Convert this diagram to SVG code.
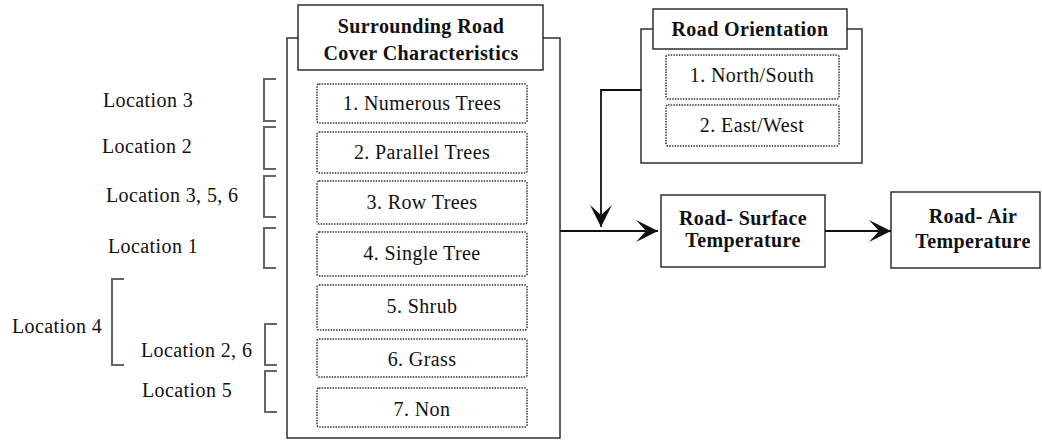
<svg xmlns="http://www.w3.org/2000/svg" width="1042" height="440" viewBox="0 0 1042 440">
<defs>
<style>
.box{fill:#fff;stroke:#222;stroke-width:1.4}
.dot{fill:#fff;stroke:#333;stroke-width:1.5;stroke-dasharray:1.5 1.2}
.br{fill:none;stroke:#666;stroke-width:2}
.conn{fill:none;stroke:#111;stroke-width:1.8}
.t{font-family:"Liberation Serif","Times New Roman",serif;font-size:20px;letter-spacing:0.4px;fill:#111}
.b{font-family:"Liberation Serif","Times New Roman",serif;font-size:20px;font-weight:bold;letter-spacing:0.4px;fill:#111}
.m{text-anchor:middle}
</style>
<marker id="arr" viewBox="-24 -12 26 24" refX="0" refY="0" markerWidth="26" markerHeight="24" markerUnits="userSpaceOnUse" orient="auto">
<path d="M0,0 L-22,-11 L-12,0 L-22,11 Z" fill="#111"/>
</marker>
</defs>
<rect width="1042" height="440" fill="#fff"/>

<g id="cover">
<rect class="box" x="287" y="38" width="273" height="400"/>
<rect class="box" x="298" y="5" width="245" height="65"/>
<text class="b m" x="421" y="33">Surrounding Road</text>
<text class="b m" x="421" y="60">Cover Characteristics</text>
</g>
<g id="item1"><rect class="dot" x="317" y="84" width="210" height="39" rx="2"/><text class="t m" x="422" y="110">1. Numerous Trees</text></g>
<g id="item2"><rect class="dot" x="317" y="132" width="210" height="41" rx="2"/><text class="t m" x="422" y="159">2. Parallel Trees</text></g>
<g id="item3"><rect class="dot" x="317" y="181" width="210" height="43" rx="2"/><text class="t m" x="422" y="209">3. Row Trees</text></g>
<g id="item4"><rect class="dot" x="317" y="232" width="210" height="44" rx="2"/><text class="t m" x="422" y="260">4. Single Tree</text></g>
<g id="item5"><rect class="dot" x="317" y="285" width="210" height="45" rx="2"/><text class="t m" x="422" y="313">5. Shrub</text></g>
<g id="item6"><rect class="dot" x="317" y="339" width="210" height="38" rx="2"/><text class="t m" x="422" y="366">6. Grass</text></g>
<g id="item7"><rect class="dot" x="317" y="388" width="210" height="39" rx="2"/><text class="t m" x="422" y="416">7. Non</text></g>

<g id="orientation">
<rect class="box" x="641" y="29" width="221" height="134"/>
<rect class="box" x="653" y="9" width="194" height="40"/>
<text class="b m" x="750" y="36">Road Orientation</text>
</g>
<g id="or1"><rect class="dot" x="666" y="55" width="173" height="44" rx="2"/><text class="t m" x="752" y="82">1. North/South</text></g>
<g id="or2"><rect class="dot" x="666" y="105" width="173" height="41" rx="2"/><text class="t m" x="752" y="132">2. East/West</text></g>

<g id="surface">
<rect class="box" x="661" y="195" width="164" height="72"/>
<text class="b m" x="743" y="225">Road- Surface</text>
<text class="b m" x="743" y="247">Temperature</text>
</g>
<g id="air">
<rect class="box" x="891" y="192" width="149" height="76"/>
<text class="b m" x="973" y="223">Road- Air</text>
<text class="b m" x="973" y="248">Temperature</text>
</g>

<g id="labels">
<path class="br" d="M276,79 H264 V121 H276"/>
<path class="br" d="M276,127 H264 V169 H276"/>
<path class="br" d="M276,176 H264 V217 H276"/>
<path class="br" d="M276,228 H264 V268 H276"/>
<path class="br" d="M124,279 H112 V365 H124"/>
<path class="br" d="M277,324 H265 V365 H277"/>
<path class="br" d="M277,371 H265 V412 H277"/>
<text class="t" x="103" y="107">Location 3</text>
<text class="t" x="102" y="153">Location 2</text>
<text class="t" x="106" y="202">Location 3, 5, 6</text>
<text class="t" x="108" y="253">Location 1</text>
<text class="t" x="12" y="333">Location 4</text>
<text class="t" x="141" y="357">Location 2, 6</text>
<text class="t" x="142" y="397">Location 5</text>
</g>

<g id="connectors">
<path class="conn" d="M560,231 H658" marker-end="url(#arr)"/>
<path class="conn" d="M641,90 H601 V227" marker-end="url(#arr)"/>
<path class="conn" d="M825,231 H891" marker-end="url(#arr)"/>
</g>
</svg>
